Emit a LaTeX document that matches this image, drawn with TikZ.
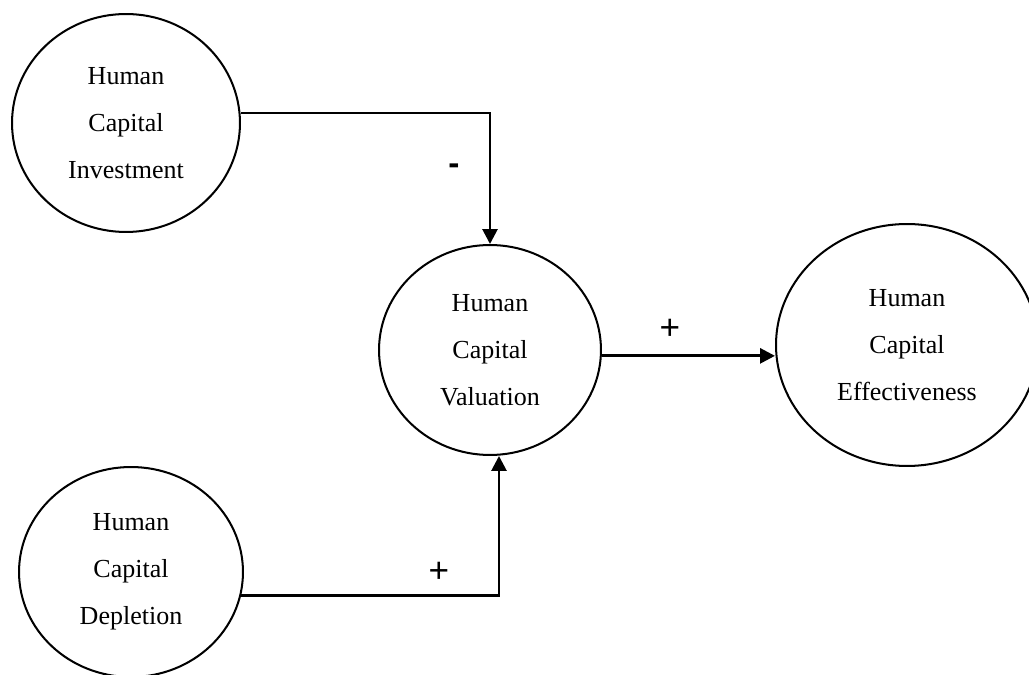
\documentclass[tikz,border=0pt]{standalone}
\usepackage{fontspec}
\setmainfont{Liberation Serif}
\newfontfamily\signfont{Liberation Sans}
\usepackage{tikz}
\usetikzlibrary{arrows.meta}
\usetikzlibrary{calc}
\usetikzlibrary{shapes.geometric}

\begin{document}
\begin{tikzpicture}[x=0.02cm, y=-0.02cm, line width=1.15pt,
        node_style/.style={ellipse,draw=black,inner sep=0pt,align=center,font=\fontsize{14.8}{26.7}\selectfont},
        sign_style/.style={inner sep=0pt,font=\signfont\fontsize{20}{22}\selectfont},
        edge_style/.style={draw=black, line width=1.6pt,-{Triangle[length=0.3cm,width=0.3cm]}}]

        \useasboundingbox (0,0) rectangle (1029,675);

        \node [node_style,minimum width=4.56cm,minimum height=4.36cm](n1) at (126,123) {Human\\Capital\\Investment};

        \node [node_style,minimum width=4.44cm,minimum height=4.2cm](n2) at (490,350) {Human\\Capital\\Valuation};

        \node [node_style,minimum width=5.24cm,minimum height=4.84cm](n3) at (907,345) {Human\\Capital\\Effectiveness};

        \node [node_style,minimum width=4.48cm,minimum height=4.2cm](n4) at (131,572) {Human\\Capital\\Depletion};

        \draw [edge_style] (n1.5) -| (n2.north);

        \draw [edge_style] (n2.-3) -- (n2.-3 -| n3.west);

        \draw [edge_style] (n4.-12) -| ([xshift=0.18cm]n2.south);

        \node [sign_style,font=\signfont\bfseries\fontsize{19}{20}\selectfont](s1) at (454,169) {-};

        \node [sign_style](s2) at (670,329) {+};

        \node [sign_style](s3) at (439,572) {+};

        \end{tikzpicture}
\end{document}
